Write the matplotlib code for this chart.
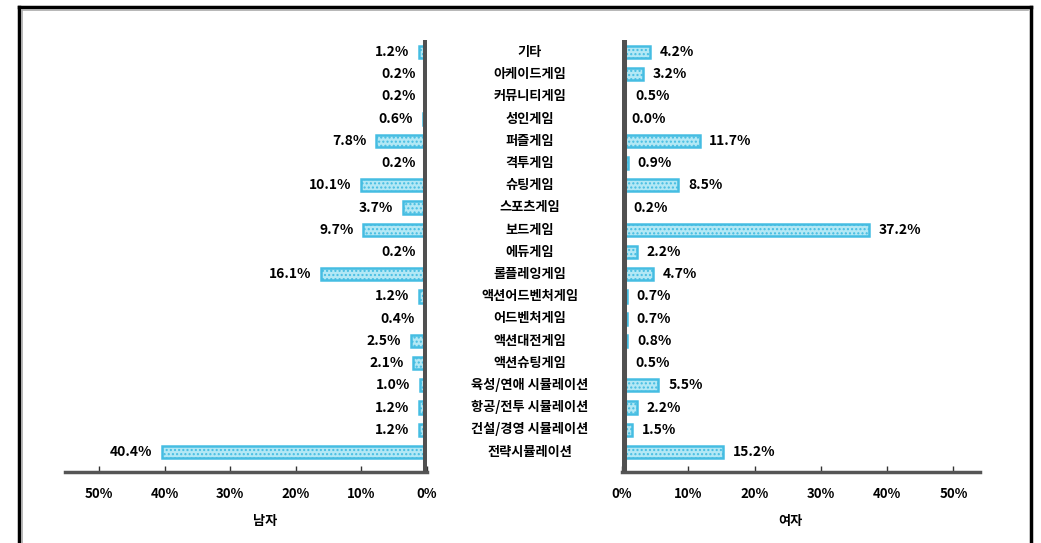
import matplotlib
matplotlib.use("Agg")
import matplotlib.pyplot as plt
from matplotlib.lines import Line2D

plt.rcParams['font.family'] = ['Noto Sans CJK KR', 'DejaVu Sans']

categories = ["기타", "아케이드게임", "커뮤니티게임", "성인게임", "퍼즐게임", "격투게임",
              "슈팅게임", "스포츠게임", "보드게임", "에듀게임", "롤플레잉게임",
              "액션어드벤처게임", "어드벤처게임", "액션대전게임", "액션슈팅게임",
              "육성/연애 시뮬레이션", "항공/전투 시뮬레이션", "건설/경영 시뮬레이션",
              "전략시뮬레이션"]
male = [1.2, 0.2, 0.2, 0.6, 7.8, 0.2, 10.1, 3.7, 9.7, 0.2, 16.1, 1.2, 0.4, 2.5, 2.1,
        1.0, 1.2, 1.2, 40.4]
female = [4.2, 3.2, 0.5, 0.0, 11.7, 0.9, 8.5, 0.2, 37.2, 2.2, 4.7, 0.7, 0.7, 0.8, 0.5,
          5.5, 2.2, 1.5, 15.2]
ticks = [0, 10, 20, 30, 40, 50]
tick_labels = ["0%", "10%", "20%", "30%", "40%", "50%"]
side_labels = ["남자", "여자"]

W, H = 1041, 543
fig = plt.figure(figsize=(W / 100, H / 100), dpi=100)

def fx(px):
    return px / W

def fy(py):
    return 1 - py / H

bottom = fy(472)
height = (472 - 40) / H
axL = fig.add_axes([fx(65), bottom, fx(427 - 65), height])
axR = fig.add_axes([fx(622), bottom, fx(980 - 622), height])

face = '#b3e8f5'
edge = '#45bde2'
n = len(categories)
ypos = list(range(n))

for ax, vals, lim, side in [(axL, male, (55.2, 0), 'left'), (axR, female, (0, 54.0), 'right')]:
    ax.barh(ypos, vals, height=0.55, color=face, edgecolor=edge, linewidth=1.8,
            hatch='....', zorder=2)
    ax.set_xlim(*lim)
    ax.set_ylim(n - 0.1, -0.54)
    for s in ['top', 'right', 'left']:
        ax.spines[s].set_visible(False)
    ax.spines['bottom'].set_color('#555555')
    ax.spines['bottom'].set_linewidth(2.5)
    ax.set_yticks([])
    ax.set_xticks(ticks)
    ax.set_xticklabels(tick_labels, fontsize=9.5, fontweight='heavy')
    ax.tick_params(axis='x', direction='in', length=4, width=1, color='#333333', pad=11)
    ax.axvline(0, color='#505050', linewidth=6.5, zorder=3)
    for i, v in enumerate(vals):
        ax.annotate(f"{v:.1f}%", (v, i), xytext=(-7 if side == 'left' else 7, 0),
                    textcoords='offset points', va='center',
                    ha='right' if side == 'left' else 'left',
                    fontsize=10, fontweight='heavy')

for i, c in enumerate(categories):
    ypix = 52 + 22.2 * i
    fig.text(fx(530), fy(ypix), c, ha='center', va='center', fontsize=9.5, fontweight='heavy')

fig.text(fx(265), fy(521), side_labels[0], ha='center', va='center', fontsize=9.5, fontweight='heavy')
fig.text(fx(790), fy(521), side_labels[1], ha='center', va='center', fontsize=9.5, fontweight='heavy')

# frame
fig.add_artist(Line2D([fx(19), fx(19)], [0, fy(7)], color='black', linewidth=2.5, transform=fig.transFigure))
fig.add_artist(Line2D([fx(19), fx(1031)], [fy(7), fy(7)], color='black', linewidth=2.5, transform=fig.transFigure))
fig.add_artist(Line2D([fx(1031), fx(1031)], [0, fy(7)], color='black', linewidth=2.5, transform=fig.transFigure))
fig.add_artist(Line2D([fx(22), fx(22)], [0, fy(10)], color='#aaaaaa', linewidth=1.2, transform=fig.transFigure))
fig.add_artist(Line2D([fx(22), fx(1028)], [fy(10), fy(10)], color='#aaaaaa', linewidth=1.2, transform=fig.transFigure))

fig.savefig("out.png", dpi=100)
